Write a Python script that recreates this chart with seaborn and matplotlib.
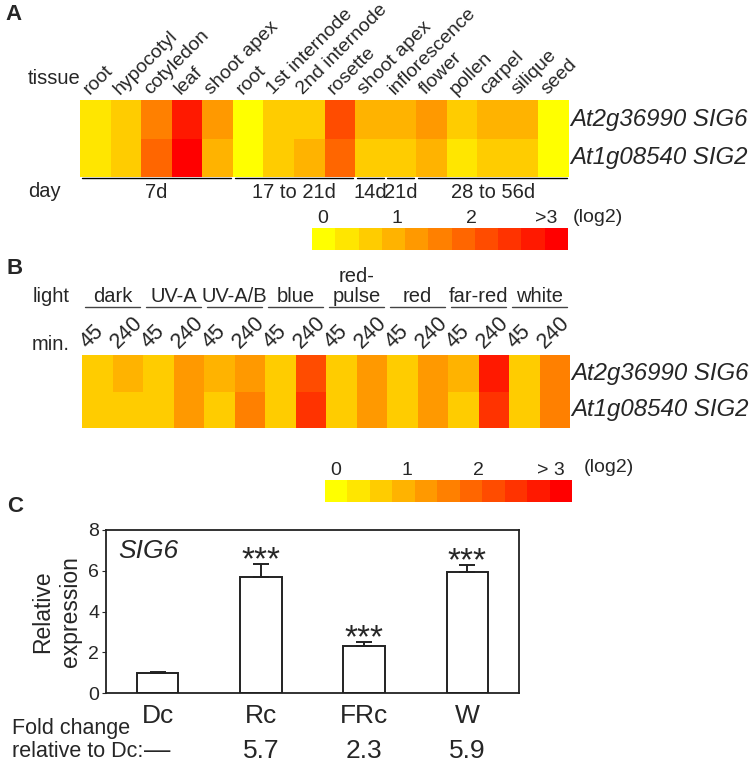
import numpy as np
import matplotlib
matplotlib.use('Agg')
from matplotlib import pyplot as plt
from matplotlib.colors import LinearSegmentedColormap
import seaborn as sns

# genes shown in both heatmaps
genes = ['At2g36990 SIG6', 'At1g08540 SIG2']

# panel A - tissues (log2 expression)
tissues = ['root', 'hypocotyl', 'cotyledon', 'leaf', 'shoot apex', 'root', '1st internode',
           '2nd internode', 'rosette', 'shoot apex', 'inflorescence', 'flower', 'pollen',
           'carpel', 'silique', 'seed']
tissue_sig6 = [0.2, 0.6, 1.6, 2.8, 1.2, 0.0, 0.6, 0.6, 2.2, 1.1, 1.1, 1.2, 0.5, 0.9, 0.8, 0.1]
tissue_sig2 = [0.2, 0.5, 2.0, 3.2, 1.0, 0.1, 0.6, 0.8, 2.0, 0.6, 0.6, 1.0, 0.2, 0.6, 0.7, 0.1]
days = ['7d', '17 to 21d', '14d', '21d', '28 to 56d']
day_spans = [5, 4, 1, 1, 5]

# panel B - light treatments (log2 expression)
lights = ['dark', 'UV-A', 'UV-A/B', 'blue', 'red-\npulse', 'red', 'far-red', 'white']
minutes = ['45', '240']
light_sig6 = [0.6, 0.9, 0.6, 1.2, 0.8, 1.3, 0.6, 2.3, 0.7, 1.3, 0.6, 1.3, 0.8, 2.8, 0.6, 1.7]
light_sig2 = [0.7, 0.7, 0.7, 1.4, 0.6, 1.5, 0.6, 2.4, 0.7, 1.3, 0.7, 1.3, 0.6, 2.4, 0.6, 1.7]

# panel C - qPCR
conditions = ['Dc', 'Rc', 'FRc', 'W']
expression = [1.0, 5.7, 2.3, 5.95]
expression_err = [0.03, 0.65, 0.2, 0.35]
stars = ['', '***', '***', '***']
fold_change = ['\u2014', '5.7', '2.3', '5.9']

cbar_ticks = [0, 1, 2, 3]
VMIN, VMAX = -0.15, 3.3

sns.set_style('white')
plt.rcParams['font.family'] = ['Liberation Sans', 'DejaVu Sans']

W, H = 756, 766
fig = plt.figure(figsize=(W / 100, H / 100), dpi=100)


def box(x0, y0, x1, y1):
    return [x0 / W, 1 - y1 / H, (x1 - x0) / W, (y1 - y0) / H]


def fig_text(x, y, s, **kw):
    return fig.text(x / W, 1 - y / H, s, **kw)


cmap = LinearSegmentedColormap.from_list('yr', ['#ffff00', '#ff0000']).resampled(11)


def style_heatmap(ax, cax, labels, offset, label_size, cb_labels):
    ax.xaxis.tick_top()
    ax.set_xticks(np.arange(len(labels)) + offset, labels, rotation=45, ha='left',
                  rotation_mode='anchor', fontsize=label_size)
    ax.yaxis.tick_right()
    ax.set_yticks(np.arange(len(genes)) + 0.5, genes, rotation=0, va='center',
                  fontsize=17.3, fontstyle='italic')
    ax.tick_params(axis='x', length=0, pad=1.5)
    ax.tick_params(axis='y', length=0, pad=1)
    cb = ax.collections[0].colorbar
    cb.outline.set_visible(False)
    cax.xaxis.set_ticks_position('top')
    cax.set_xticks(cbar_ticks, cb_labels)
    cax.tick_params(length=0, labelsize=14, pad=1)


# ---- A
fig_text(5, 15, 'A', fontsize=16, fontweight='bold', va='center')
axA = fig.add_axes(box(80, 100, 569, 177))
caxA = fig.add_axes(box(312, 228, 568, 250))
sns.heatmap(np.array([tissue_sig6, tissue_sig2]), ax=axA, cmap=cmap, vmin=VMIN, vmax=VMAX,
            xticklabels=tissues, yticklabels=genes, cbar_ax=caxA,
            cbar_kws={'orientation': 'horizontal'})
style_heatmap(axA, caxA, tissues, 0.4, 14, ['0', '1', '2', '>3'])
fig_text(573, 218, '(log2)', fontsize=14, va='center')
fig_text(28, 79, 'tissue', fontsize=14.5, va='center')
fig_text(28, 192, 'day', fontsize=14.5, va='center')
start = 0
for d, n in zip(days, day_spans):
    axA.plot([start + 0.06, start + n - 0.06], [2.03, 2.03], color='black', lw=1, clip_on=False)
    axA.text(start + n / 2, 2.4, d, ha='center', va='center', fontsize=14.5)
    start += n

# ---- B
fig_text(7, 269, 'B', fontsize=16, fontweight='bold', va='center')
axB = fig.add_axes(box(82, 355, 570, 428))
caxB = fig.add_axes(box(325, 480, 572, 502))
min_labels = minutes * len(lights)
sns.heatmap(np.array([light_sig6, light_sig2]), ax=axB, cmap=cmap, vmin=VMIN, vmax=VMAX,
            xticklabels=min_labels, yticklabels=genes, cbar_ax=caxB,
            cbar_kws={'orientation': 'horizontal'})
style_heatmap(axB, caxB, min_labels, 0.3, 15.5, ['0', '1', '2', '> 3'])
fig_text(584, 467, '(log2)', fontsize=14, va='center')
fig_text(33, 302, 'light', fontsize=14.5, va='baseline')
fig_text(32, 350, 'min.', fontsize=14.5, va='baseline')
for i, l in enumerate(lights):
    axB.plot([2 * i + 0.1, 2 * i + 1.9], [-1.32, -1.32], color='#444444', lw=1, clip_on=False)
    axB.text(2 * i + 1, -1.34, l, ha='center', va='bottom', fontsize=14.5, linespacing=1.05)

# ---- C
fig_text(7, 507, 'C', fontsize=16, fontweight='bold', va='center')
axC = fig.add_axes(box(106, 530, 519, 693))
sns.barplot(x=conditions, y=expression, color='white', saturation=1, edgecolor='#222222',
            linewidth=1.4, width=0.4, errorbar=None, ax=axC)
axC.errorbar(range(len(conditions)), expression, yerr=[np.zeros(len(conditions)), expression_err],
             fmt='none', ecolor='#222222', elinewidth=1.4, capsize=6, capthick=1.4)
for i, s in enumerate(stars):
    axC.text(i, expression[i] + expression_err[i] - 0.6, s, ha='center', va='bottom', fontsize=24)
for i, s in enumerate(fold_change):
    axC.text(i, -0.399, s, transform=axC.get_xaxis_transform(), ha='center', va='baseline',
             fontsize=19)
axC.set_xlim(-0.5, 3.5)
axC.set_ylim(0, 8)
axC.set_yticks([0, 2, 4, 6, 8])
axC.set_xlabel('')
axC.set_ylabel('Relative\nexpression', fontsize=16.5, linespacing=1.3)
axC.yaxis.set_label_coords(-0.058, 0.5)
axC.tick_params(axis='y', left=True, direction='out', length=3, labelsize=14, pad=2)
axC.tick_params(axis='x', length=0, labelsize=19, pad=8)
for sp in axC.spines.values():
    sp.set_visible(True)
    sp.set_color('#222222')
    sp.set_linewidth(1.3)
axC.text(0.03, 0.87, 'SIG6', transform=axC.transAxes, fontsize=19, fontstyle='italic', va='center')
fig_text(12, 734, 'Fold change', fontsize=15.5, va='baseline')
fig_text(12, 757, 'relative to Dc:', fontsize=15.5, va='baseline')

fig.savefig('out.png', dpi=100)
